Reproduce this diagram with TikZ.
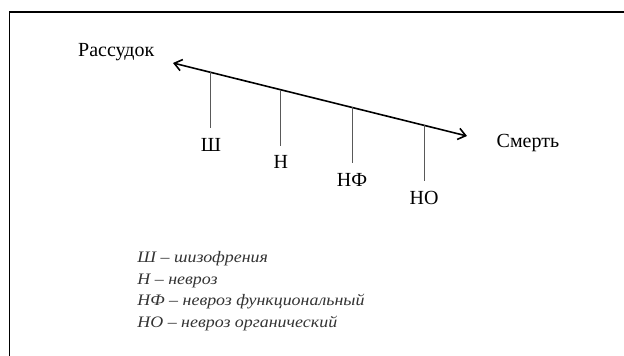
\documentclass[tikz,border=0pt]{standalone}
\usepackage{fontspec}
\setmainfont{Liberation Serif}
\newfontfamily\leyendafont[FakeStretch=1.12]{Liberation Serif}
\usetikzlibrary{arrows.meta, calc, positioning}

\begin{document}
\begin{tikzpicture}[x=1pt, y=1pt, >={Straight Barb[length=2.6mm, width=4mm]}, line width=0.8pt,
  lbl/.style={font=\fontsize{20}{24}\selectfont},
  tick/.style={black!65, line width=1pt, shorten >=6pt}]
  \useasboundingbox (0,0) rectangle (624,356);
  % marco
  \draw[line width=1.2pt] (624,344) -- (9.5,344) -- (9.5,0);
  % eje rassudok - smert
  \coordinate (razum) at (173,293);
  \coordinate (smert) at (467,220);
  \draw[<->, line width=1.6pt] (razum) -- (smert);
  \node[lbl, anchor=base east] (rassudok) at ($(razum)+(-15,6)$) {Рассудок};
  \node[lbl, anchor=base west] (smertlbl) at ($(smert)+(26,-12)$) {Смерть};
  % puntos sobre el eje
  \coordinate (p1) at ($(razum)!0.129!(smert)$);
  \coordinate (p2) at ($(razum)!0.367!(smert)$);
  \coordinate (p3) at ($(razum)!0.609!(smert)$);
  \coordinate (p4) at ($(razum)!0.854!(smert)$);
  \node[lbl, below=62pt of p1] (sh) {Ш};
  \node[lbl, below=62pt of p2] (n) {Н};
  \node[lbl, below=62pt of p3] (nf) {НФ};
  \node[lbl, below=62pt of p4] (no) {НО};
  \draw[tick] (p1) -- (sh);
  \draw[tick] (p2) -- (n);
  \draw[tick] (p3) -- (nf);
  \draw[tick] (p4) -- (no);
  % leyenda
  \node[anchor=north west, inner sep=0pt, align=left, text=black!80,
    font=\leyendafont\itshape\fontsize{16}{21.7}\selectfont] (leyenda) at (137,105)
    {Ш – шизофрения\\Н – невроз\\НФ – невроз функциональный\\НО – невроз органический};
\end{tikzpicture}
\end{document}
